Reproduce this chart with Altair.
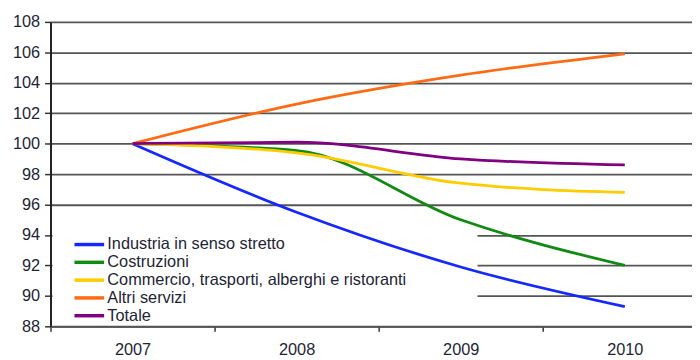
import altair as alt
import pandas as pd

years = [2007, 2008, 2009, 2010]
series = [
    "Industria in senso stretto",
    "Costruzioni",
    "Commercio, trasporti, alberghi e ristoranti",
    "Altri servizi",
    "Totale",
]
industria = [100, 95.5, 91.9, 89.3]
costruzioni = [100, 99.55, 95.0, 92.0]
commercio = [100, 99.4, 97.4, 96.8]
altri = [100, 102.6, 104.5, 105.9]
totale = [100, 100.1, 99.0, 98.6]
colors = ["#1428ff", "#118a11", "#ffcc00", "#ff6a13", "#800080"]
y_ticks = list(range(88, 109, 2))
x_ticks = [2006.5, 2007, 2007.5, 2008, 2008.5, 2009, 2009.5, 2010]

values = [industria, costruzioni, commercio, altri, totale]
rows = []
for s, vals in zip(series, values):
    for yr, v in zip(years, vals):
        rows.append({"anno": yr, "valore": v, "serie": s})
df = pd.DataFrame(rows)

W, H = 649, 308
FONT = "Liberation Sans"
TXT = "#1e2535"
FS = 16.5

bg = alt.Chart(pd.DataFrame({"a": [0]})).mark_rect(color="white").encode(
    x=alt.value(2), x2=alt.value(432), y=alt.value(205), y2=alt.value(305)
)

lines = alt.Chart(df).mark_line(interpolate="monotone", strokeWidth=2.8).encode(
    x=alt.X(
        "anno:Q",
        title=None,
        scale=alt.Scale(domain=[2006.5, 2006.5 + W / 166], nice=False, zero=False),
        axis=alt.Axis(
            values=x_ticks,
            labelExpr="datum.value % 1 == 0 ? format(datum.value, 'd') : ''",
            tickOpacity={"condition": {"test": "datum.value % 1 != 0", "value": 1}, "value": 0},
            tickSize=5,
            tickColor="#333333",
            tickWidth=1.5,
            labelPadding=10,
            labelFontSize=FS,
            labelFont=FONT,
            labelColor=TXT,
            labelOverlap=False,
            labelFlush=False,
            domainColor="#555555",
            domainWidth=2,
            grid=False,
        ),
    ),
    y=alt.Y(
        "valore:Q",
        title=None,
        scale=alt.Scale(domain=[88, 108], nice=False, zero=False),
        axis=alt.Axis(
            values=y_ticks,
            tickSize=6,
            tickColor="#333333",
            tickWidth=1.5,
            labelPadding=5,
            labelFontSize=FS,
            labelFont=FONT,
            labelColor=TXT,
            domainColor="#222222",
            domainWidth=2,
            grid=True,
            gridColor="#555555",
            gridWidth=1.8,
        ),
    ),
    color=alt.Color(
        "serie:N",
        scale=alt.Scale(domain=series, range=colors),
        legend=alt.Legend(
            title=None,
            orient="none",
            legendX=24,
            legendY=217,
            padding=0,
            symbolType="M-1.6,0L4.4,0",
            symbolSize=100,
            symbolStrokeWidth=3.5,
            symbolFillColor="transparent",
            labelOffset=17,
            labelFontSize=FS,
            labelFont=FONT,
            labelColor=TXT,
            labelLimit=500,
            rowPadding=1,
        ),
    ),
    order=alt.Order("anno:Q"),
)

chart = (
    alt.layer(bg, lines)
    .properties(
        width=W,
        height=H,
        autosize=alt.AutoSizeParams(type="none"),
        padding={"left": 43, "top": 12, "right": 0, "bottom": 32},
    )
    .configure_view(stroke=None)
)

chart.save("out.html", embed_options={"renderer": "svg", "actions": False})
